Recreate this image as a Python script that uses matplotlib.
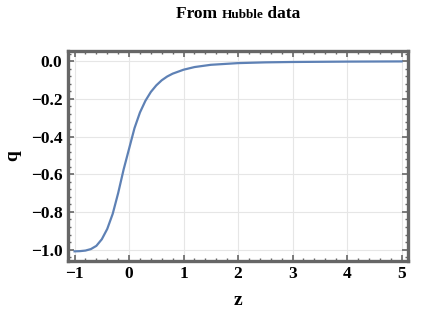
import matplotlib
matplotlib.use("Agg")
import matplotlib.pyplot as plt
from matplotlib.ticker import AutoMinorLocator, MultipleLocator

# q(z)
z = [-1.0, -0.9, -0.8, -0.7, -0.6, -0.5, -0.4, -0.3, -0.2, -0.1,
     0.0, 0.1, 0.2, 0.3, 0.4, 0.5, 0.6, 0.7, 0.8, 1.0,
     1.2, 1.5, 2.0, 2.5, 3.0, 4.0, 5.0]
q = [-1.009, -1.008, -1.005, -0.997, -0.980, -0.945, -0.890, -0.810, -0.700, -0.575,
     -0.465, -0.355, -0.272, -0.210, -0.163, -0.128, -0.101, -0.081, -0.066, -0.045,
     -0.031, -0.019, -0.010, -0.006, -0.004, -0.002, -0.001]

frame_col = "#666666"
plt.rcParams['font.family'] = ['Liberation Serif', 'DejaVu Serif']
plt.rcParams['font.weight'] = 'bold'

fig = plt.figure(figsize=(4.36, 3.14), dpi=100)
ax = fig.add_axes([0.156, 0.169, 0.780, 0.669])

ax.plot(z, q, color="#5E81B5", lw=1.6)

ax.set_xlim(-1.12, 5.12)
ax.set_ylim(-1.06, 0.055)
ax.xaxis.set_major_locator(MultipleLocator(1))
ax.yaxis.set_major_locator(MultipleLocator(0.2))
ax.xaxis.set_minor_locator(AutoMinorLocator(5))
ax.yaxis.set_minor_locator(AutoMinorLocator(5))
ax.grid(True, which='major', color="#e6e6e6", lw=0.8)

for s in ax.spines.values():
    s.set_color(frame_col)
    s.set_linewidth(2.4)

ax.tick_params(which='both', direction='in', top=True, right=True, color=frame_col,
               labelsize=12.5, pad=4)
ax.tick_params(which='major', length=4, width=1.2)
ax.tick_params(which='minor', length=2.5, width=1.0)
ax.set_yticklabels([f"{v:.1f}".replace('-', '\u2212') for v in ax.get_yticks()])

ax.set_xlabel("z", fontsize=14, fontweight='bold', labelpad=7)
ax.set_ylabel("q", fontsize=14, fontweight='bold', labelpad=7)

# title with smaller "Hubble"
fig.canvas.draw()
r = fig.canvas.get_renderer()
parts = [("From ", 12.5), ("Hubble", 9.5), (" data", 12.5)]
texts = [fig.text(0, 0.943, s, fontsize=fs, fontweight='bold', va='baseline') for s, fs in parts]
widths = [t.get_window_extent(r).width for t in texts]
total = sum(widths)
bb = ax.get_position()
cx = (bb.x0 + bb.x1) / 2 * fig.bbox.width
x0 = cx - total / 2
for t, w in zip(texts, widths):
    t.set_x(x0 / fig.bbox.width)
    x0 += w

fig.savefig("out.png", dpi=100)
